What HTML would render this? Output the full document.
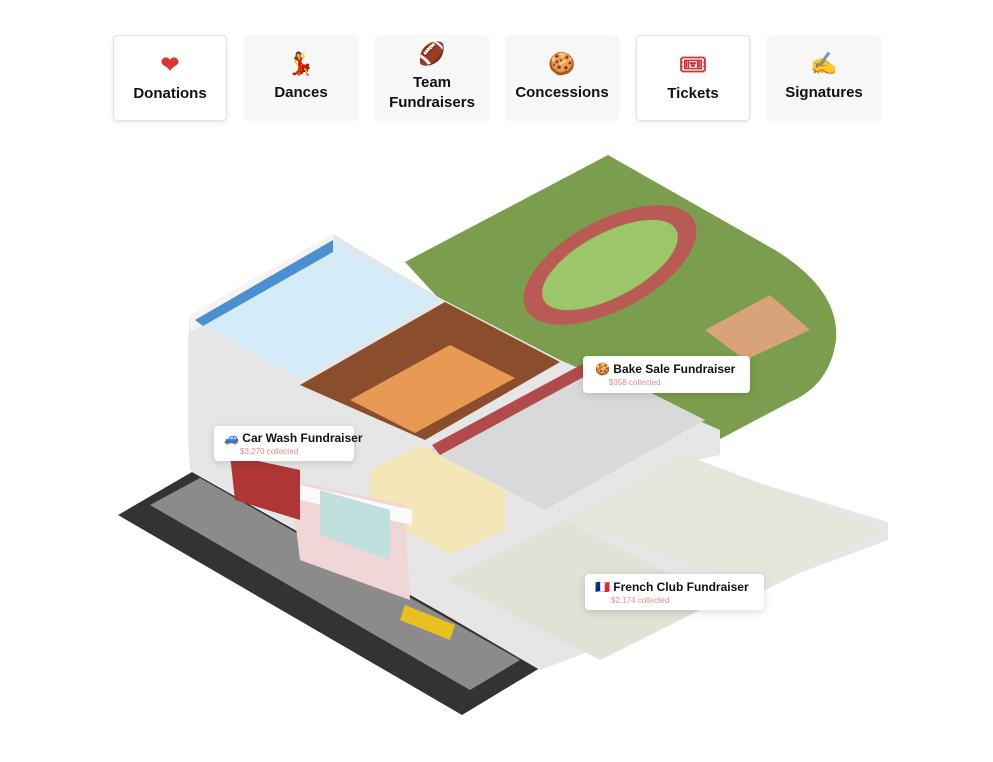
<!DOCTYPE html>
<html><head><style>
body{margin:0;width:993px;height:762px;background:#fff;font-family:"Liberation Sans",sans-serif;position:relative;overflow:hidden}
.b{position:absolute;top:35px;width:114px;height:86px;background:#f7f7f7;border-radius:4px;text-align:center;font-weight:bold;font-size:15px;color:#111;box-sizing:border-box}
.b.w{background:#fff;border:1px solid #e2e2e2;box-shadow:0 2px 4px rgba(0,0,0,.08)}
.b .i{position:absolute;left:0;right:0;top:16px;font-size:22px;line-height:26px}
.b .t{position:absolute;left:0;right:0;top:48px;line-height:20px}
.b .t2{top:38px}
.l{position:absolute;background:#fff;border-radius:4px;box-shadow:0 2px 8px rgba(0,0,0,.15);font-weight:bold;font-size:12px;color:#111;white-space:nowrap}
.l span{display:block;font-weight:normal;font-size:8px;color:#e08a8a;margin-left:26px;margin-top:2px}
</style></head><body>
<div class="b w" style="left:113px"><div class="i" style="color:#d33">❤</div><div class="t">Donations</div></div>
<div class="b" style="left:244px"><div class="i" style="color:#c33">💃</div><div class="t">Dances</div></div>
<div class="b" style="left:375px"><div class="i" style="top:6px;color:#6b2a1a">🏈</div><div class="t t2">Team<br>Fundraisers</div></div>
<div class="b" style="left:505px"><div class="i" style="color:#c48a60">🍪</div><div class="t">Concessions</div></div>
<div class="b w" style="left:636px"><div class="i" style="color:#c33">🎟</div><div class="t">Tickets</div></div>
<div class="b" style="left:767px"><div class="i">✍</div><div class="t">Signatures</div></div>
<svg style="position:absolute;left:0;top:0" width="993" height="762">
<path d="M405,262 L608,155 L775,250 Q840,290 836,340 Q830,385 790,402 L705,447 L440,300 Z" fill="#7a9e4d"/>
<ellipse cx="610" cy="265" rx="95" ry="45" transform="rotate(-28 610 265)" fill="#b95a55"/>
<ellipse cx="610" cy="265" rx="75" ry="32" transform="rotate(-28 610 265)" fill="#9cc66a"/>
<path d="M705,330 L770,295 L810,330 L745,360 Z" fill="#d8a27a"/>
<path d="M118,515 L192,472 L540,668 L462,715 Z" fill="#333"/>
<path d="M150,505 L200,478 L520,660 L470,690 Z" fill="#8b8b8b"/>
<path d="M190,315 L333,234 L440,298 L560,360 L720,430 L720,455 L690,462 L888,522 L888,540 L540,670 L420,600 L190,470 L188,440 L188,340 Z" fill="#e6e6e6"/>
<path d="M190,315 L333,234 L333,250 L190,332 Z" fill="#f4f4f4"/>
<path d="M195,320 L333,240 L440,300 L300,380 Z" fill="#d4ecf8"/>
<path d="M195,320 L333,240 L333,252 L203,326 Z" fill="#4a90d0"/>
<path d="M300,385 L445,302 L560,362 L425,440 Z" fill="#8a4e2c"/>
<path d="M350,400 L450,345 L515,378 L415,433 Z" fill="#e89a55"/>
<path d="M430,450 L590,362 L705,420 L545,510 Z" fill="#d9d9d9"/>
<path d="M432,445 L590,360 L600,368 L440,455 Z" fill="#b14a4a"/>
<path d="M370,470 L420,445 L505,490 L505,530 L450,555 L370,510 Z" fill="#f3e7b8"/>
<path d="M565,520 L685,455 L885,530 L765,590 Z" fill="#e3e7dc"/>
<path d="M445,580 L565,520 L720,600 L600,660 Z" fill="#dfe3d6"/>
<path d="M290,480 L405,505 L410,600 L300,560 Z" fill="#f0d6d6"/>
<path d="M300,485 L412,510 L412,525 L300,500 Z" fill="#fafafa"/>
<path d="M320,490 L390,510 L390,560 L320,535 Z" fill="#bfe0dd"/>
<path d="M230,455 L300,470 L300,520 L235,500 Z" fill="#b03535"/>
<path d="M405,605 L455,625 L450,640 L400,620 Z" fill="#e8c020"/>
</svg>
<div class="l" style="left:214px;top:426px;width:140px;height:35px"><div style="padding:5px 0 0 10px">🚙 Car Wash Fundraiser</div><span>$3,270 collected</span></div>
<div class="l" style="left:583px;top:356px;width:167px;height:37px"><div style="padding:6px 0 0 12px">🍪 Bake Sale Fundraiser</div><span>$358 collected</span></div>
<div class="l" style="left:585px;top:574px;width:179px;height:36px"><div style="padding:6px 0 0 10px">🇫🇷 French Club Fundraiser</div><span>$2,174 collected</span></div>
</body></html>
